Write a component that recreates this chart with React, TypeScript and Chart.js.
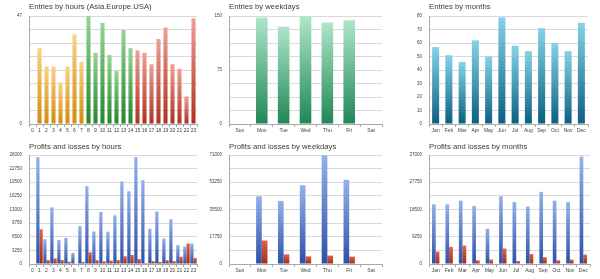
import React, { useEffect, useRef } from "react";
import { Chart, registerables } from "chart.js";

Chart.register(...registerables);

const hourLabels = ["0", "1", "2", "3", "4", "5", "6", "7", "8", "9", "10", "11", "12", "13", "14", "15", "16", "17", "18", "19", "20", "21", "22", "23"];
const weekdayLabels = ["Sun", "Mon", "Tue", "Wed", "Thu", "Fri", "Sat"];
const monthLabels = ["Jan", "Feb", "Mar", "Apr", "May", "Jun", "Jul", "Aug", "Sep", "Oct", "Nov", "Dec"];

const hourEntries = [0, 33, 25, 25, 18, 25, 39, 27, 47, 31, 44, 30, 23, 41, 33, 32, 31, 26, 37, 42, 26, 24, 12, 46];
const weekdayEntries = [0, 148, 135, 150, 141, 144, 0];
const monthEntries = [57, 51, 46, 62, 50, 79, 58, 54, 71, 60, 54, 75];

const hourProfits = [0, 25500, 5900, 13500, 5750, 6250, 2650, 9050, 18550, 7750, 12400, 7700, 11600, 19700, 17350, 25500, 20000, 8400, 12550, 6100, 10700, 4500, 4150, 4900];
const hourLosses = [0, 8300, 950, 1350, 950, 550, 150, 500, 2800, 900, 650, 800, 950, 1850, 2150, 1200, 250, 700, 500, 900, 700, 1750, 4900, 1450];
const weekdayProfits = [0, 44100, 41100, 51300, 70800, 54800, 0];
const weekdayLosses = [0, 15300, 6300, 5000, 5500, 4800, 0];
const monthProfits = [20250, 20250, 21500, 19700, 11950, 23000, 21000, 19500, 24500, 21500, 21000, 36500];
const monthLosses = [4200, 5800, 6250, 1250, 1500, 5250, 1000, 3400, 2300, 1250, 1500, 3200];

const hourAxisMax = 47;
const weekdayAxisMax = 150;
const monthAxisMax = 80;
const hourPLAxisMax = 26000;
const weekdayPLAxisMax = 71000;
const monthPLAxisMax = 37000;

const FONT = "'Liberation Sans', Arial, sans-serif";

type Stops = [string, string];
const ORANGE: Stops = ["#fad386", "#d38b0c"];
const GREEN: Stops = ["#95d595", "#23852a"];
const RED: Stops = ["#eda193", "#b12f1d"];
const MINT: Stops = ["#aee6c9", "#1f8756"];
const TEAL: Stops = ["#86d3e6", "#0a5f80"];
const BLUE: Stops = ["#93b1ea", "#2d50a6"];
const DARKRED: Stops = ["#e0644a", "#a22a14"];

function gradient(pick: (i: number) => Stops) {
  return (ctx: any) => {
    const stops = pick(ctx.dataIndex ?? 0);
    const chart = ctx.chart;
    const area = chart.chartArea;
    if (!area || ctx.type !== "data") return stops[1];
    const ys = chart.scales.y;
    const v = ctx.raw as number;
    const y0 = ys.getPixelForValue(0);
    const y1 = ys.getPixelForValue(v);
    if (!isFinite(y0) || !isFinite(y1) || Math.abs(y0 - y1) < 1) return stops[1];
    const g = chart.ctx.createLinearGradient(0, y1, 0, y0);
    g.addColorStop(0, stops[0]);
    g.addColorStop(1, stops[1]);
    return g;
  };
}

const titlePlugin = {
  id: "panelTitle",
  afterDraw(chart: any, _args: any, opts: any) {
    const { ctx, chartArea } = chart;
    ctx.save();
    ctx.font = `7.7px ${FONT}`;
    ctx.fillStyle = "#3a3a3a";
    ctx.textBaseline = "middle";
    ctx.textAlign = "left";
    ctx.fillText(opts.text, chartArea.left, opts.y);
    ctx.restore();
  },
};

interface PanelProps {
  left: number;
  top: number;
  height: number;
  title: string;
  labels: string[];
  datasets: any[];
  max: number;
  labelEvery: number;
  rightPad: number;
  titleY: number;
  padTop: number;
}

function Panel(p: PanelProps) {
  const ref = useRef<HTMLCanvasElement>(null);
  useEffect(() => {
    if (!ref.current) return;
    const chart = new Chart(ref.current, {
      type: "bar",
      data: { labels: p.labels, datasets: p.datasets },
      plugins: [titlePlugin],
      options: {
        animation: false,
        responsive: false,
        maintainAspectRatio: false,
        layout: { padding: { left: 0, right: p.rightPad, top: p.padTop, bottom: 0 } },
        plugins: {
          legend: { display: false },
          tooltip: { enabled: false },
          panelTitle: { text: p.title, y: p.titleY },
        } as any,
        scales: {
          x: {
            afterFit: (s: any) => {
              s.height = 15;
            },
            grid: {
              display: true,
              drawOnChartArea: false,
              drawTicks: true,
              tickLength: 3,
              offset: true,
              color: "#a8a8a8",
            },
            border: { display: true, color: "#a8a8a8" },
            ticks: {
              autoSkip: false,
              maxRotation: 0,
              minRotation: 0,
              padding: 1,
              color: "#404040",
              font: { family: FONT, size: 5 },
            },
          },
          y: {
            min: 0,
            max: p.max,
            afterFit: (s: any) => {
              s.width = 29;
            },
            afterBuildTicks: (s: any) => {
              const t = [];
              for (let i = 0; i <= 8; i++) t.push({ value: (p.max * i) / 8 });
              s.ticks = t;
            },
            grid: { drawTicks: false, color: "#d9d9d9" },
            border: { display: true, color: "#a8a8a8" },
            ticks: {
              padding: 7,
              color: "#404040",
              font: { family: FONT, size: 4.5 },
              callback: (_v: any, i: number) => {
                if (i % p.labelEvery !== 0) return "";
                return String(Math.round((p.max * i) / 8));
              },
            },
          },
        },
      },
    });
    return () => chart.destroy();
  }, []);
  return (
    <canvas
      ref={ref}
      width={200}
      height={p.height}
      style={{ position: "absolute", left: p.left, top: p.top, width: 200, height: p.height }}
    />
  );
}

function hourColor(i: number): Stops {
  if (i <= 7) return ORANGE;
  if (i <= 14) return GREEN;
  return RED;
}

export default function App() {
  return (
    <div style={{ position: "absolute", left: 0, top: 0, width: 600, height: 279, background: "#fff", overflow: "hidden" }}>
      <Panel
        left={0} top={0} height={139} title="Entries by hours (Asia.Europe.USA)"
        labels={hourLabels} max={hourAxisMax} labelEvery={8} rightPad={3} titleY={7} padTop={16}
        datasets={[{ data: hourEntries, backgroundColor: gradient(hourColor), barPercentage: 0.58, categoryPercentage: 1 }]}
      />
      <Panel
        left={200} top={0} height={139} title="Entries by weekdays"
        labels={weekdayLabels} max={weekdayAxisMax} labelEvery={4} rightPad={18} titleY={7} padTop={16}
        datasets={[{ data: weekdayEntries, backgroundColor: gradient(() => MINT), barPercentage: 0.53, categoryPercentage: 1 }]}
      />
      <Panel
        left={400} top={0} height={139} title="Entries by months"
        labels={monthLabels} max={monthAxisMax} labelEvery={1} rightPad={12} titleY={7} padTop={16}
        datasets={[{ data: monthEntries, backgroundColor: gradient(() => TEAL), barPercentage: 0.53, categoryPercentage: 1 }]}
      />
      <Panel
        left={0} top={139} height={140} title="Profits and losses by hours"
        labels={hourLabels} max={hourPLAxisMax} labelEvery={1} rightPad={3} titleY={7.5} padTop={16}
        datasets={[
          { data: hourProfits, backgroundColor: gradient(() => BLUE), barPercentage: 1, categoryPercentage: 0.92 },
          { data: hourLosses, backgroundColor: gradient(() => DARKRED), barPercentage: 1, categoryPercentage: 0.92 },
        ]}
      />
      <Panel
        left={200} top={139} height={140} title="Profits and losses by weekdays"
        labels={weekdayLabels} max={weekdayPLAxisMax} labelEvery={2} rightPad={18} titleY={7.5} padTop={16}
        datasets={[
          { data: weekdayProfits, backgroundColor: gradient(() => BLUE), barPercentage: 1, categoryPercentage: 0.52 },
          { data: weekdayLosses, backgroundColor: gradient(() => DARKRED), barPercentage: 1, categoryPercentage: 0.52 },
        ]}
      />
      <Panel
        left={400} top={139} height={140} title="Profits and losses by months"
        labels={monthLabels} max={monthPLAxisMax} labelEvery={2} rightPad={10} titleY={7.5} padTop={16}
        datasets={[
          { data: monthProfits, backgroundColor: gradient(() => BLUE), barPercentage: 1, categoryPercentage: 0.55 },
          { data: monthLosses, backgroundColor: gradient(() => DARKRED), barPercentage: 1, categoryPercentage: 0.55 },
        ]}
      />
    </div>
  );
}
